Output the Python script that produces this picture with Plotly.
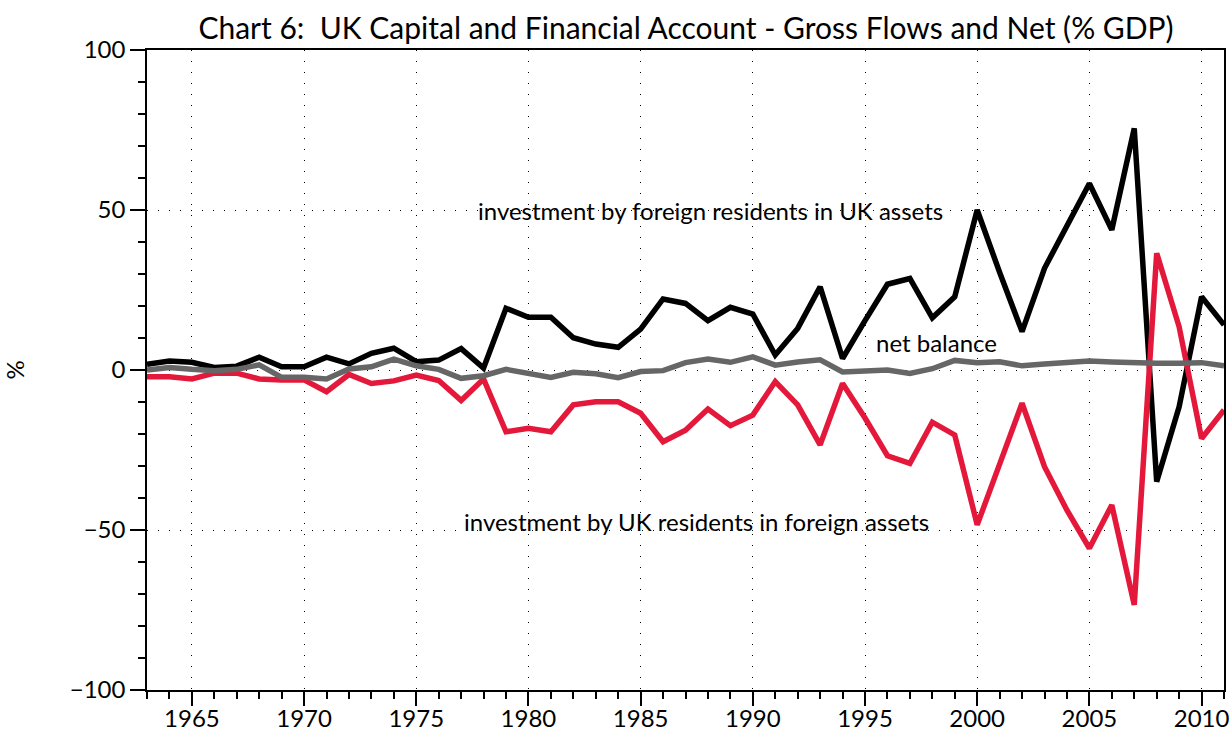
import plotly.graph_objects as go

years = list(range(1963, 2012))

foreign_in_uk = [1.8, 2.8, 2.4, 0.8, 1.2, 4.0, 1.0, 1.0, 4.0, 1.9,
                 5.2, 6.8, 2.6, 3.1, 6.7, 0.6, 19.3, 16.5, 16.5, 10.1,
                 8.1, 7.1, 12.8, 22.2, 20.8, 15.4, 19.6, 17.5, 4.7, 13.0,
                 26.0, 3.6, 15.4, 26.8, 28.6, 16.3, 22.9, 50.0, 30.5, 12.0,
                 31.8, 45.3, 58.3, 43.8, 75.5, -34.9, -11.5, 22.9, 14.1]

uk_in_foreign = [-2.1, -2.1, -2.8, -1.0, -1.0, -2.8, -3.1, -3.1, -6.8, -1.4,
                 -4.2, -3.4, -1.6, -3.3, -9.5, -2.8, -19.3, -18.2, -19.3, -10.9,
                 -9.9, -9.9, -13.5, -22.4, -18.8, -12.2, -17.4, -14.1, -3.6, -10.9,
                 -23.4, -4.2, -15.0, -26.8, -29.2, -16.3, -20.3, -48.4, -29.4, -10.4,
                 -30.2, -43.8, -55.7, -42.2, -73.4, 36.5, 13.5, -21.4, -12.5]

net_balance = [0.0, 0.8, 0.2, -0.2, 0.2, 1.6, -2.3, -2.3, -2.8, 0.3,
               1.0, 3.4, 1.3, 0.2, -2.6, -1.8, 0.2, -1.2, -2.3, -0.7,
               -1.2, -2.4, -0.5, -0.2, 2.3, 3.4, 2.4, 4.1, 1.5, 2.5,
               3.2, -0.6, -0.3, 0.0, -1.1, 0.4, 3.0, 2.3, 2.6, 1.3,
               1.9, 2.4, 2.8, 2.5, 2.1, 2.1, 2.1, 2.3, 1.3]

x_tick_vals = [1965, 1970, 1975, 1980, 1985, 1990, 1995, 2000, 2005, 2010]
y_tick_vals = [-100, -50, 0, 50, 100]
y_tick_text = ["\u2212100", "\u221250", "0", "50", "100"]

FONT = "Lato"

fig = go.Figure()
fig.add_trace(go.Scatter(x=years, y=foreign_in_uk, mode="lines",
                         line=dict(color="#000000", width=5.5), name="foreign in UK"))
fig.add_trace(go.Scatter(x=years, y=uk_in_foreign, mode="lines",
                         line=dict(color="#E4183A", width=5.5), name="UK in foreign"))
fig.add_trace(go.Scatter(x=years, y=net_balance, mode="lines",
                         line=dict(color="#666666", width=5.5), name="net"))

fig.update_layout(
    width=1231, height=731,
    margin=dict(l=147, r=7, t=50, b=41, autoexpand=False),
    paper_bgcolor="white", plot_bgcolor="white",
    showlegend=False,
    font=dict(family=FONT, color="black", size=24),
    title=dict(text="Chart 6:  UK Capital and Financial Account - Gross Flows and Net (% GDP)",
               x=686 / 1231, xanchor="center", y=1 - 28 / 731, yanchor="middle",
               font=dict(family=FONT, size=30, color="black")),
)

fig.update_xaxes(
    range=[1963, 2011], tickvals=x_tick_vals, automargin=False,
    ticks="outside", ticklen=14, tickwidth=1.5, tickcolor="black",
    ticklabelstandoff=-8,
    minor=dict(dtick=1, tick0=1963, ticks="outside", ticklen=7, tickwidth=1.5, tickcolor="black",
               showgrid=False),
    showgrid=True, gridcolor="black", gridwidth=1, griddash="1px,10px",
    showline=True, linecolor="black", linewidth=1.5, mirror=True,
    zeroline=False, tickfont=dict(size=24),
)
fig.update_yaxes(
    range=[-100, 100], tickvals=y_tick_vals, ticktext=y_tick_text, automargin=False,
    ticks="outside", ticklen=15, tickwidth=1.5, tickcolor="black",
    minor=dict(dtick=10, tick0=0, ticks="outside", ticklen=7, tickwidth=1.5, tickcolor="black",
               showgrid=False),
    showgrid=True, gridcolor="black", gridwidth=1, griddash="1px,10px",
    showline=True, linecolor="black", linewidth=1.5, mirror=True,
    zeroline=False, tickfont=dict(size=24),
    title=dict(text="%", font=dict(size=24), standoff=55),
)

ann_font = dict(family=FONT, size=24, color="black")
fig.add_annotation(x=1988.1, y=50, text="investment by foreign residents in UK assets",
                   showarrow=False, font=ann_font, xanchor="center", yanchor="middle")
fig.add_annotation(x=1998.2, y=8.75, text="net balance",
                   showarrow=False, font=ann_font, xanchor="center", yanchor="middle")
fig.add_annotation(x=1987.5, y=-47.2, text="investment by UK residents in foreign assets",
                   showarrow=False, font=ann_font, xanchor="center", yanchor="middle")

fig.write_html("out.html", config={"displayModeBar": False},
               post_script="document.body.style.margin='0px';")
